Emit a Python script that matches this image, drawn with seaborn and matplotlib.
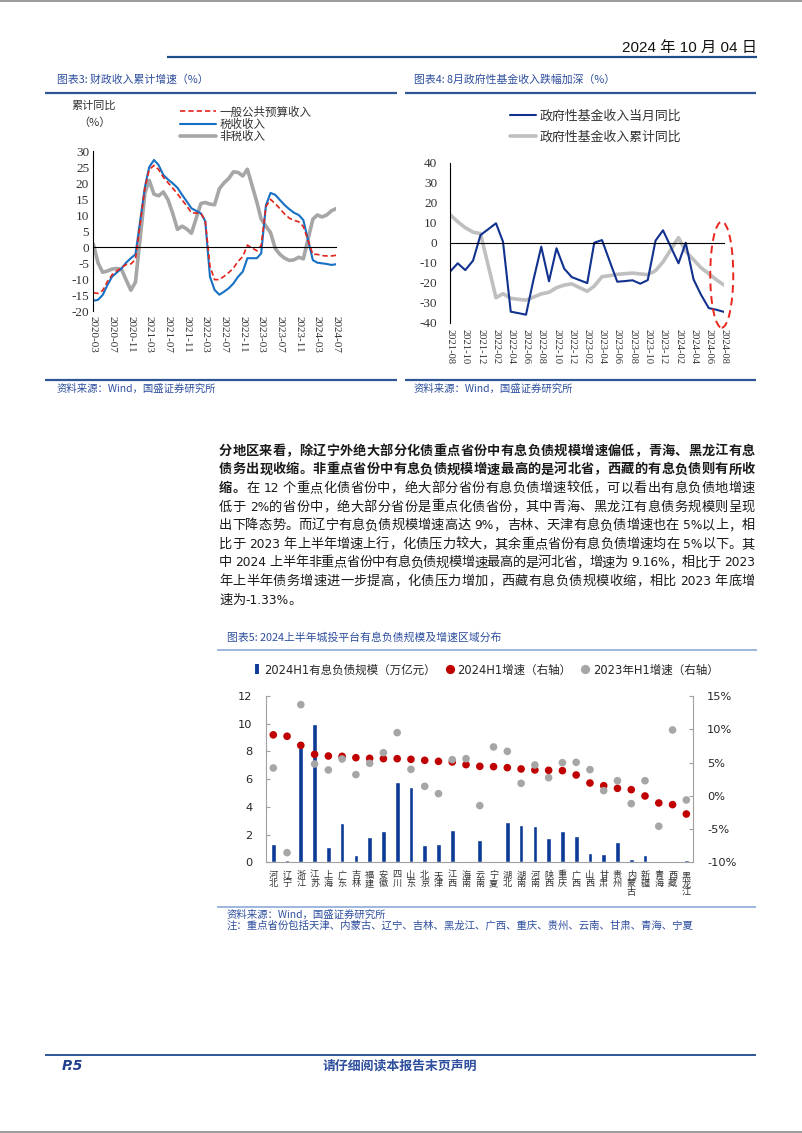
import re
import numpy as np
import pandas as pd
import matplotlib
matplotlib.use("Agg")
import matplotlib.pyplot as plt
from matplotlib.lines import Line2D
from matplotlib.patches import Ellipse
import matplotlib.dates as mdates
import seaborn as sns

# ---------------- data ----------------
months3 = ["2020-03", "2020-04", "2020-05", "2020-06", "2020-07", "2020-08", "2020-09", "2020-10", "2020-11", "2020-12",
           "2021-02", "2021-03", "2021-04", "2021-05", "2021-06", "2021-07", "2021-08", "2021-09", "2021-10", "2021-11", "2021-12",
           "2022-02", "2022-03", "2022-04", "2022-05", "2022-06", "2022-07", "2022-08", "2022-09", "2022-10", "2022-11", "2022-12",
           "2023-02", "2023-03", "2023-04", "2023-05", "2023-06", "2023-07", "2023-08", "2023-09", "2023-10", "2023-11", "2023-12",
           "2024-02", "2024-03", "2024-04", "2024-05", "2024-06", "2024-07"]
general_rev = [-14.3, -14.5, -13.6, -10.8, -8.7, -7.5, -6.4, -5.5, -5.3, -3.9,
               18.7, 24.2, 25.5, 24.2, 21.8, 20.1, 18.4, 16.6, 14.7, 12.8, 10.7,
               10.5, 8.3, -6.0, -10.2, -10.2, -9.2, -8.0, -6.6, -4.5, -3.0, 0.6,
               -1.2, 0.5, 12.6, 14.9, 13.5, 12.0, 10.3, 9.0, 8.3, 7.9, 6.4,
               -2.3, -2.3, -2.7, -2.8, -2.8, -2.6]
tax_rev = [-16.8, -16.5, -15.0, -11.9, -9.3, -8.0, -6.7, -4.9, -3.5, -2.3,
           18.9, 25.0, 27.2, 25.6, 22.5, 21.1, 19.9, 18.5, 16.3, 14.2, 12.1,
           10.5, 8.1, -9.3, -13.4, -14.9, -14.0, -12.9, -11.4, -9.3, -7.7, -3.5,
           -3.5, -2.0, 13.0, 16.9, 16.3, 14.7, 13.1, 11.8, 10.7, 10.0, 8.4,
           -4.1, -4.9, -5.1, -5.3, -5.6, -5.4]
nontax_rev = [1.0, -5.0, -7.9, -7.5, -6.9, -6.7, -7.0, -10.3, -13.5, -11.0,
              17.0, 20.8, 16.5, 16.0, 17.2, 14.8, 10.5, 5.5, 6.5, 5.6, 4.3,
              13.6, 13.9, 13.4, 13.2, 18.2, 20.0, 21.4, 23.5, 23.3, 22.2, 24.3,
              14.0, 8.7, 6.5, 4.5, -0.5, -2.3, -3.5, -4.2, -4.0, -3.2, -3.7,
              8.7, 10.0, 9.4, 10.0, 11.3, 12.0]
labels3 = ["一般公共预算收入", "税收收入", "非税收入"]
ticks3 = ["2020-03", "2020-07", "2020-11", "2021-03", "2021-07", "2021-11", "2022-03", "2022-07",
          "2022-11", "2023-03", "2023-07", "2023-11", "2024-03", "2024-07"]

months4 = ["2021-08", "2021-09", "2021-10", "2021-11", "2021-12",
           "2022-02", "2022-03", "2022-04", "2022-05", "2022-06", "2022-07", "2022-08", "2022-09", "2022-10", "2022-11", "2022-12",
           "2023-02", "2023-03", "2023-04", "2023-05", "2023-06", "2023-07", "2023-08", "2023-09", "2023-10", "2023-11", "2023-12",
           "2024-02", "2024-03", "2024-04", "2024-05", "2024-06", "2024-07", "2024-08"]
fund_month = [-14.5, -10.3, -13.7, -9.0, 3.8,
              9.7, 0.5, -34.5, -35.2, -36.0, -18.5, -2.0, -19.3, -2.8, -13.0, -17.2,
              -20.2, 0.0, 1.3, -9.0, -19.5, -19.2, -18.8, -20.5, -18.7, 1.0, 6.2,
              -10.3, 0.0, -18.3, -26.0, -32.7, -33.5, -34.6]
fund_cum = [14.0, 10.5, 7.5, 5.3, 4.5,
            -27.5, -25.5, -27.8, -28.3, -28.7, -27.2, -25.6, -24.8, -22.5, -21.2, -20.6,
            -24.3, -21.7, -17.0, -16.5, -15.8, -15.5, -15.2, -15.6, -16.0, -14.0, -9.6,
            2.5, -4.3, -8.5, -12.5, -15.5, -18.5, -21.2]
labels4 = ["政府性基金收入当月同比", "政府性基金收入累计同比"]
ticks4 = ["2021-08", "2021-10", "2021-12", "2022-02", "2022-04", "2022-06", "2022-08", "2022-10", "2022-12",
          "2023-02", "2023-04", "2023-06", "2023-08", "2023-10", "2023-12", "2024-02", "2024-04", "2024-06", "2024-08"]

provinces = ["河北", "辽宁", "浙江", "江苏", "上海", "广东", "吉林", "福建", "安徽", "四川", "山东", "北京", "天津",
             "江西", "海南", "云南", "宁夏", "湖北", "湖南", "河南", "陕西", "重庆", "广西", "山西", "甘肃", "贵州",
             "内蒙古", "新疆", "青海", "西藏", "黑龙江"]
debt_2024h1 = [1.35, 0.15, 8.3, 10.0, 1.08, 2.81, 0.53, 1.83, 2.24, 5.77, 5.43, 1.27, 1.35,
               2.31, 0.07, 1.61, 0.10, 2.88, 2.67, 2.62, 1.75, 2.26, 1.88, 0.70, 0.58, 1.44,
               0.24, 0.50, 0.05, 0.04, 0.14]
growth_2024h1 = [9.16, 8.95, 7.58, 6.23, 5.98, 5.93, 5.73, 5.63, 5.58, 5.58, 5.48, 5.33, 5.18,
                 5.08, 4.68, 4.43, 4.38, 4.23, 4.03, 3.88, 3.83, 3.78, 3.13, 1.92, 1.52, 1.12,
                 0.92, -0.03, -1.08, -1.33, -2.74]
growth_2023h1 = [4.18, -8.55, 13.7, 4.78, 3.88, 5.53, 3.18, 4.88, 6.48, 9.49, 3.98, 1.42, 0.32,
                 5.43, 5.58, -1.48, 7.34, 6.68, 1.87, 4.63, 2.72, 4.98, 5.03, 3.93, 0.77, 2.27,
                 -1.18, 2.27, -4.58, 9.89, -0.63]
labels5 = ["2024H1有息负债规模（万亿元）", "2024H1增速（右轴）", "2023年H1增速（右轴）"]

body_lines = [
    [("分地区来看，除辽宁外绝大部分化债重点省份中有息负债规模增速偏低，青海、黑龙江有息", True)],
    [("债务出现收缩。非重点省份中有息负债规模增速最高的是河北省，西藏的有息负债则有所收", True)],
    [("缩。", True), ("在 12 个重点化债省份中，绝大部分省份有息负债增速较低，可以看出有息负债地增速", False)],
    [("低于 2%的省份中，绝大部分省份是重点化债省份，其中青海、黑龙江有息债务规模则呈现", False)],
    [("出下降态势。而辽宁有息负债规模增速高达 9%，吉林、天津有息负债增速也在 5%以上，相", False)],
    [("比于 2023 年上半年增速上行，化债压力较大，其余重点省份有息负债增速均在 5%以下。其", False)],
    [("中 2024 上半年非重点省份中有息负债规模增速最高的是河北省，增速为 9.16%，相比于 2023", False)],
    [("年上半年债务增速进一步提高，化债压力增加，西藏有息负债规模收缩，相比 2023 年底增", False)],
    [("速为-1.33%。", False)],
]

# ---------------- setup ----------------
W, H = 802, 1133
sns.set_theme(style="white")
plt.rcParams["font.family"] = ["DejaVu Sans", "Noto Sans CJK SC"]
plt.rcParams["axes.unicode_minus"] = False

CJK = ["Noto Sans CJK SC", "DejaVu Sans"]
SERIF = ["Liberation Serif", "Noto Sans CJK SC"]
TITLE_C = "#2E4F9E"
LINE_C = "#2F5597"

fig = plt.figure(figsize=(W / 100, H / 100), dpi=100)
fig.patch.set_facecolor("white")


def fx(x):
    return x / W


def fy(y):
    return 1 - y / H


def rect(l, t, r, b):
    return [fx(l), fy(b), fx(r) - fx(l), fy(t) - fy(b)]


def hline(y, x0, x1, color, lw):
    fig.add_artist(Line2D([fx(x0), fx(x1)], [fy(y), fy(y)], color=color, lw=lw,
                          transform=fig.transFigure, solid_capstyle="butt"))


# ---------------- page decorations ----------------
hline(0.6, 0, W, "#8a8a8a", 1.2)
hline(1132.4, 0, W, "#8a8a8a", 1.2)
fig.text(fx(757), fy(48), "2024 年 10 月 04 日", ha="right", va="center", fontsize=11,
         family=["Liberation Sans", "Noto Sans CJK SC"], color="#111111")
hline(57, 167, 757, "#1F4E8C", 1.6)

hline(92.7, 45, 397, LINE_C, 1.6)
hline(92.7, 405, 756, LINE_C, 1.6)
fig.text(fx(57), fy(80), "图表3: 财政收入累计增速（%）", ha="left", va="center", fontsize=7.8, family=CJK, color=TITLE_C)
fig.text(fx(414), fy(80), "图表4: 8月政府性基金收入跌幅加深（%）", ha="left", va="center", fontsize=7.8, family=CJK, color=TITLE_C)

hline(380, 45, 397, LINE_C, 1.6)
hline(380, 405, 756, LINE_C, 1.6)
fig.text(fx(57), fy(388.5), "资料来源：Wind，国盛证券研究所", ha="left", va="center", fontsize=7.5, family=CJK, color=TITLE_C)
fig.text(fx(414), fy(388.5), "资料来源：Wind，国盛证券研究所", ha="left", va="center", fontsize=7.5, family=CJK, color=TITLE_C)

# ---------------- chart 3 ----------------
d3 = pd.to_datetime(months3)
ax3 = fig.add_axes(rect(93.3, 151, 336, 311))
sns.lineplot(x=d3, y=nontax_rev, ax=ax3, color="#A6A6A6", lw=2.6, label=labels3[2])
sns.lineplot(x=d3, y=tax_rev, ax=ax3, color="#1670C4", lw=1.5, label=labels3[1])
sns.lineplot(x=d3, y=general_rev, ax=ax3, color="#E3241B", lw=1.2, linestyle=(0, (3.2, 1.8)), label=labels3[0])
ax3.set_ylim(-20, 30)
ax3.set_yticks(range(-20, 31, 5))
ax3.set_xlim(pd.Timestamp(months3[0]), pd.Timestamp(months3[-1]))
ax3.set_xticks(pd.to_datetime(ticks3))
ax3.xaxis.set_major_formatter(mdates.DateFormatter("%Y-%m"))
for s in ["top", "right"]:
    ax3.spines[s].set_visible(False)
ax3.spines["left"].set_color("black")
ax3.spines["left"].set_linewidth(0.8)
ax3.spines["bottom"].set_position(("data", 0))
ax3.spines["bottom"].set_color("black")
ax3.spines["bottom"].set_linewidth(0.8)
ax3.tick_params(axis="y", direction="in", length=3, width=0.8, color="black", pad=3, labelsize=9.5, labelcolor="#333333")
ax3.tick_params(axis="x", direction="in", length=3, width=0.8, color="black", pad=50, labelsize=8, labelcolor="#333333")
for t in ax3.get_yticklabels():
    t.set_family(SERIF)
for t in ax3.get_xticklabels():
    t.set_family(SERIF)
    t.set_rotation(270)
    t.set_va("top")
    t.set_ha("center")
ax3.set_xlabel("")
ax3.set_ylabel("")
h, l = ax3.get_legend_handles_labels()
order = [l.index(x) for x in labels3]
ax3.legend([h[i] for i in order], [l[i] for i in order], loc="upper left",
           bbox_to_anchor=(fx(180), fy(105.5)), bbox_transform=fig.transFigure, frameon=False,
           borderpad=0, borderaxespad=0, handlelength=3.1, handletextpad=0.3, labelspacing=-0.05,
           prop={"family": CJK, "size": 8.3}, labelcolor="#333333")
fig.text(fx(94), fy(105.7), "累计同比", ha="center", va="center", fontsize=8, family=CJK, color="#333333")
fig.text(fx(94), fy(122.3), "（%）", ha="center", va="center", fontsize=8, family=CJK, color="#333333")

# ---------------- chart 4 ----------------
d4 = pd.to_datetime(months4)
ax4 = fig.add_axes(rect(450, 162.7, 724, 322.7))
sns.lineplot(x=d4, y=fund_cum, ax=ax4, color="#BFBFBF", lw=2.6, label=labels4[1])
sns.lineplot(x=d4, y=fund_month, ax=ax4, color="#11318F", lw=1.5, label=labels4[0])
ax4.set_ylim(-40, 40)
ax4.set_yticks(range(-40, 41, 10))
ax4.set_xlim(pd.Timestamp(months4[0]), pd.Timestamp(months4[-1]))
ax4.set_xticks(pd.to_datetime(ticks4))
ax4.xaxis.set_major_formatter(mdates.DateFormatter("%Y-%m"))
for s in ["top", "right"]:
    ax4.spines[s].set_visible(False)
ax4.spines["left"].set_color("black")
ax4.spines["left"].set_linewidth(0.8)
ax4.spines["bottom"].set_position(("data", 0))
ax4.spines["bottom"].set_color("black")
ax4.spines["bottom"].set_linewidth(0.8)
ax4.tick_params(axis="y", direction="in", length=3, width=0.8, color="black", pad=9, labelsize=9.5, labelcolor="#333333")
ax4.tick_params(axis="x", direction="in", length=3, width=0.8, color="black", pad=62, labelsize=7.6, labelcolor="#333333")
for t in ax4.get_yticklabels():
    t.set_family(SERIF)
for t in ax4.get_xticklabels():
    t.set_family(SERIF)
    t.set_rotation(270)
    t.set_va("top")
    t.set_ha("center")
ax4.set_xlabel("")
ax4.set_ylabel("")
h, l = ax4.get_legend_handles_labels()
order = [l.index(x) for x in labels4]
ax4.legend([h[i] for i in order], [l[i] for i in order], loc="upper left",
           bbox_to_anchor=(fx(510), fy(109.5)), bbox_transform=fig.transFigure, frameon=False,
           borderpad=0, borderaxespad=0, handlelength=2.05, handletextpad=0.25, labelspacing=0.62,
           prop={"family": CJK, "size": 9.3}, labelcolor="#333333")
# highlight ellipse around the latest readings
ex = mdates.date2num(pd.Timestamp(months4[-1])) - 9
ax4.add_patch(Ellipse((ex, -16), width=92, height=53, fill=False, ec="#E8261E", lw=1.4,
                      ls=(0, (4, 2.5)), clip_on=False, zorder=5))

# ---------------- body text ----------------
fig.canvas.draw()
renderer = fig.canvas.get_renderer()


def draw_line(segs, x0, x1, yc, size, justify):
    toks = []
    for text, bold in segs:
        for m in re.finditer(r" +|[\x21-\x7e]+|.", text):
            s = m.group()
            if s.startswith(" "):
                if toks:
                    toks[-1]["sp"] = True
                continue
            toks.append({"s": s, "bold": bold, "lat": ord(s[0]) < 128, "sp": False})
    spx = size * 100 / 72
    objs = []
    for t in toks:
        fam = ["DejaVu Sans"] if t["lat"] else ["Noto Sans CJK SC"]
        o = fig.text(0, fy(yc + 0.36 * spx), t["s"], fontsize=size * (0.93 if t["lat"] else 1.0),
                     fontweight="bold" if t["bold"] else "normal", family=fam,
                     va="baseline", ha="left", color="#1a1a1a")
        objs.append(o)
    widths = [o.get_window_extent(renderer).width for o in objs]
    spw = 0.28 * spx
    base = sum(widths) + spw * sum(1 for t in toks[:-1] if t["sp"])
    gaps = len(toks) - 1
    extra = (x1 - x0 - base) / gaps if (justify and gaps > 0) else 0
    x = x0
    for o, w, t in zip(objs, widths, toks):
        o.set_x(fx(x))
        x += w + extra + (spw if t["sp"] else 0)


for i, segs in enumerate(body_lines):
    draw_line(segs, 219, 755, 450 + i * 18.6, 9.5, justify=(i < len(body_lines) - 1))

# ---------------- chart 5 ----------------
fig.text(fx(227), fy(637), "图表5: 2024上半年城投平台有息负债规模及增速区域分布", ha="left", va="center",
         fontsize=7.8, family=CJK, color=TITLE_C)
hline(649.5, 217, 757, "#8EA9D8", 1.2)
hline(906.7, 217, 756, "#8EA9D8", 1.2)
fig.text(fx(227), fy(914.5), "资料来源：Wind，国盛证券研究所", ha="left", va="center", fontsize=7.5, family=CJK, color=TITLE_C)
fig.text(fx(227), fy(926), "注：重点省份包括天津、内蒙古、辽宁、吉林、黑龙江、广西、重庆、贵州、云南、甘肃、青海、宁夏",
         ha="left", va="center", fontsize=7.5, family=CJK, color=TITLE_C)

BAR_C = "#0B3B96"
RED_C = "#C00000"
GRAY_C = "#A6A6A6"
ax5 = fig.add_axes(rect(266.4, 696, 693.2, 862.3))
df5 = pd.DataFrame({"province": provinces, "debt": debt_2024h1, "g24": growth_2024h1, "g23": growth_2023h1})
sns.barplot(data=df5, x="province", y="debt", ax=ax5, color=BAR_C, saturation=1, width=0.34)
ax5.set_ylim(0, 12)
ax5.set_yticks(range(0, 13, 2))
ax6 = ax5.twinx()
pos = np.arange(len(provinces))
ax6.scatter(pos, df5["g24"], s=30, color=RED_C, edgecolors="none", zorder=3)
ax6.scatter(pos, df5["g23"], s=30, color=GRAY_C, edgecolors="none", zorder=4)
ax6.set_ylim(-10, 15)
ax6.set_yticks(range(-10, 16, 5))
ax6.set_yticklabels([f"{v}%" for v in range(-10, 16, 5)])
ax5.set_xlim(-0.5, len(provinces) - 0.5)
ax5.set_xticks(pos)
ax5.set_xticklabels(["\n".join(p) for p in provinces], family=CJK, fontsize=6.6, color="#333333",
                    linespacing=0.95, va="top")
for a in (ax5, ax6):
    a.set_xlabel("")
    a.set_ylabel("")
    a.spines["top"].set_visible(False)
    for s in ["left", "right", "bottom"]:
        a.spines[s].set_color("#A0A0A0")
        a.spines[s].set_linewidth(0.8)
ax5.spines["right"].set_visible(False)
ax6.spines["left"].set_visible(False)
ax6.spines["bottom"].set_visible(False)
ax5.tick_params(axis="x", length=0, pad=6)
ax5.tick_params(axis="y", direction="in", length=3, width=0.8, color="#A0A0A0", pad=10, labelsize=8.2, labelcolor="#262626")
ax6.tick_params(axis="y", direction="in", length=3, width=0.8, color="#A0A0A0", pad=10, labelsize=8.2, labelcolor="#262626")

handles5 = [Line2D([], [], marker="|", ms=6.5, mew=2.8, color=BAR_C, ls="none"),
            Line2D([], [], marker="o", ms=5.6, color=RED_C, ls="none"),
            Line2D([], [], marker="o", ms=5.6, color=GRAY_C, ls="none")]
fig.legend(handles5, labels5, loc="center", bbox_to_anchor=(fx(486), fy(670)), ncol=3, frameon=False,
           handlelength=0.6, handletextpad=0.35, columnspacing=0.9, borderpad=0,
           prop={"family": ["DejaVu Sans", "Noto Sans CJK SC"], "size": 8.3}, labelcolor="#262626")

# ---------------- footer ----------------
hline(1055, 45, 756, LINE_C, 1.4)
fig.text(fx(62), fy(1066), "P.5", ha="left", va="center", fontsize=10, fontweight="bold",
         style="italic", family=["DejaVu Sans"], color="#1F3F8F")
fig.text(fx(400), fy(1066), "请仔细阅读本报告末页声明", ha="center", va="center", fontsize=9.3,
         fontweight="bold", family=CJK, color=TITLE_C)

fig.savefig("out.png", dpi=100, facecolor="white")
